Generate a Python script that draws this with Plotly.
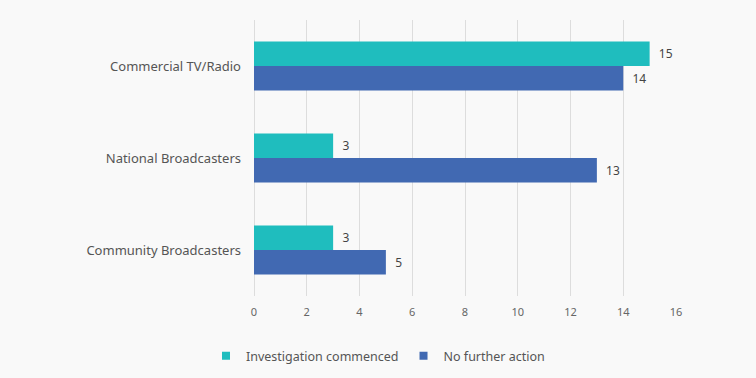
import plotly.graph_objects as go

categories = ["Commercial TV/Radio", "National Broadcasters", "Community Broadcasters"]
investigation = [15, 3, 3]
no_action = [14, 13, 5]
x_ticks = [0, 2, 4, 6, 8, 10, 12, 14, 16]
series_names = ["Investigation commenced", "No further action"]
series_colors = ["#1FBDBE", "#4169B2"]

font_family = "Noto Sans, Open Sans, sans-serif"

fig = go.Figure()
for name, vals, color in zip(series_names, [investigation, no_action], series_colors):
    fig.add_trace(go.Bar(
        y=categories, x=vals, orientation="h", name=name, showlegend=False,
        marker=dict(color=color, line=dict(width=0)),
        text=vals, texttemplate="  %{x}", textposition="outside", cliponaxis=False,
        textfont=dict(size=12, color="#444444", family=font_family),
    ))
# legend entries with small square markers
for name, color in zip(series_names, series_colors):
    fig.add_trace(go.Scatter(
        x=[None], y=[None], mode="markers", name=name,
        marker=dict(symbol="square", size=8, color=color),
        hoverinfo="skip",
    ))

fig.update_layout(
    width=756, height=378,
    barmode="group", bargap=0.467, bargroupgap=0,
    paper_bgcolor="#F9F9F9", plot_bgcolor="#F9F9F9",
    margin=dict(l=254, r=80, t=20, b=82, pad=0),
    font=dict(family=font_family, color="#555555"),
    showlegend=True,
    legend=dict(orientation="h", xref="container", x=0.5, xanchor="center",
                yref="container", y=0.018, yanchor="bottom",
                font=dict(size=12.5, color="#555555"), traceorder="normal",
                itemwidth=30, bgcolor="rgba(0,0,0,0)"),
    xaxis=dict(range=[0, 16], tickvals=x_ticks, showgrid=True, gridcolor="#DDDDDD",
               gridwidth=1, zeroline=True, zerolinecolor="#DDDDDD", zerolinewidth=1,
               showline=False, ticks="", tickfont=dict(size=11, color="#666666"),
               ticklabelstandoff=8),
    yaxis=dict(categoryorder="array", categoryarray=categories, autorange="reversed",
               showgrid=False, zeroline=False, showline=False, ticks="",
               tickfont=dict(size=13, color="#555555"), ticklabelstandoff=12),
)

fig.write_html("out.html", config={"displayModeBar": False},
               post_script="document.body.style.margin='0';document.body.style.background='#F9F9F9';")
